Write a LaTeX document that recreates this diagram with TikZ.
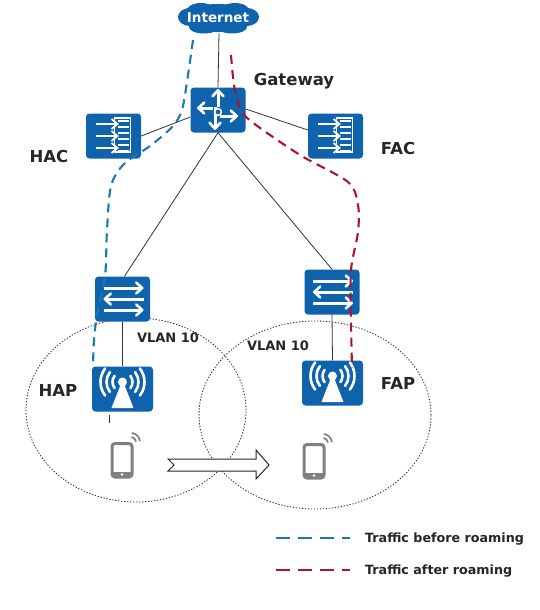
\documentclass[tikz,border=0pt]{standalone}
\usepackage{fontspec}
\setmainfont{DejaVu Sans}
\usetikzlibrary{arrows.meta,calc}
\definecolor{hw}{HTML}{0F62AC}
\definecolor{bluet}{HTML}{1B78B4}
\definecolor{redt}{HTML}{B0122E}
\definecolor{ph}{HTML}{808080}
\tikzset{
  iconbox/.style={fill=hw,rounded corners=3.5pt,minimum width=#1,minimum height=45pt,inner sep=0pt,draw=none},
  iconbox/.default=55pt,
  lab/.style={font=\fontsize{16.5}{17}\selectfont\bfseries,text=black!85,inner sep=0pt},
  vlan/.style={font=\fontsize{13}{14}\selectfont\bfseries,text=black!85,inner sep=0pt},
  leg/.style={font=\fontsize{12.7}{14}\selectfont\bfseries,text=black!85,inner sep=0pt,anchor=west},
  link/.style={draw=black!80,line width=0.8pt},
  zone/.style={draw=black!85,line width=0.8pt,dash pattern=on 1.3pt off 1.7pt},
  trafb/.style={draw=bluet,line width=2.1pt,dash pattern=on 9pt off 6pt},
  trafr/.style={draw=redt,line width=2.1pt,dash pattern=on 9pt off 6pt},
  wa/.style={draw=white,line width=3pt,-{Straight Barb[length=6pt,width=11pt,round,line width=2.6pt]}},
  routerglyph/.pic={
    \draw[wa] (0,-3)--(0,-21);
    \draw[wa] (-3,-3)--(-3,20);
    \draw[wa] (-5,-2)--(-21,-2);
    \draw[wa] (2,6)--(20,6);
    \draw[white,line width=1.5pt,fill=hw] (0,2) circle[radius=3.4pt];
  },
  acglyph/.pic={
    \draw[white,line width=1.6pt] (1,-18) rectangle (17,16);
    \foreach \yy in {-12,0,12}{
      \draw[white,line width=2pt] (-18,\yy)--(3,\yy);
      \draw[white,line width=1.8pt] (-2,\yy-5)--(4,\yy)--(-2,\yy+5);
      \draw[white,line width=1.2pt] (4,\yy-3)--(15,\yy-3) (4,\yy+3)--(15,\yy+3);
    }
  },
  switchglyph/.pic={
    \draw[wa] (-19,-11)--(21,-11);
    \draw[wa] (21,0)--(-19,0);
    \draw[wa] (-19,11)--(21,11);
  },
  apglyph/.pic={
    \fill[white] (0,-9) -- (-11,19) -- (11,19) -- cycle;
    \fill[white] (0,-7) circle[radius=4.5pt];
    \foreach \rr in {10,16,22}{
      \draw[white,line width=2.6pt,line cap=round] (0,-7) ++(-38:\rr pt) arc[start angle=-38,end angle=38,radius=\rr pt];
      \draw[white,line width=2.6pt,line cap=round] (0,-7) ++(142:\rr pt) arc[start angle=142,end angle=218,radius=\rr pt];
    }
  },
  phoneglyph/.pic={
    \draw[ph,line width=3pt,rounded corners=3pt,fill=white] (-10,-16.5) rectangle (10,17);
    \fill[ph] (-10,12) rectangle (10,17);
    \fill[white] (0,14.5) circle[radius=1.4pt];
    \foreach \rr in {5,9}{
      \draw[ph,line width=1.7pt] (9,-18) ++(5:\rr pt) arc[start angle=5,end angle=85,radius=\rr pt];
    }
  },
}
\begin{document}
\begin{tikzpicture}[x=1pt,y=-1pt]
\useasboundingbox (0,0) rectangle (540,610);
\fill[white] (0,0) rectangle (540,610);

% coverage ellipses
\draw[zone] (136,410) ellipse[x radius=110pt,y radius=92pt];
\draw[zone] (315,415) ellipse[x radius=116pt,y radius=94pt];

% nodes
\fill[hw] (190,17) ellipse[x radius=12pt,y radius=9pt];
\fill[hw] (247,17) ellipse[x radius=12pt,y radius=9pt];
\fill[hw] (218,18) ellipse[x radius=34pt,y radius=14pt];
\fill[hw] (201,12) ellipse[x radius=15pt,y radius=9pt];
\fill[hw] (235,12) ellipse[x radius=15pt,y radius=9pt];
\fill[hw] (204,27) ellipse[x radius=15pt,y radius=6.5pt];
\fill[hw] (232,27) ellipse[x radius=15pt,y radius=6.5pt];
\node[inner sep=0pt,text=white,font=\fontsize{13.5}{14}\selectfont\bfseries] (inet) at (218,18) {Internet};
\coordinate (inetb) at (219,33);

\node[iconbox] (gw) at (218,110) {};
\node[iconbox] (hac) at (113.5,136) {};
\node[iconbox] (fac) at (335.5,136) {};
\node[iconbox] (swl) at (122.5,299) {};
\node[iconbox] (swr) at (332,292) {};
\node[iconbox=61pt] (hap) at (122.5,389) {};
\node[iconbox=61pt] (fap) at (332.5,383) {};

\pic at (gw) {routerglyph};
\pic at (hac) {acglyph};
\pic at (fac) {acglyph};
\pic at (swl) {switchglyph};
\pic at (swr) {switchglyph};
\pic at (hap) {apglyph};
\pic at (fap) {apglyph};
\pic at (122,460) {phoneglyph};
\pic at (314,461) {phoneglyph};

% links
\draw[link] (inetb) -- (gw.north);
\draw[link] (gw.west |- 0,117) -- (hac.east |- 0,136);
\draw[link] (gw.east |- 0,109) -- (fac.west |- 0,130);
\draw[link] (gw.south) -- ($(swl.north)+(2,0)$);
\draw[link] (gw.south) -- (swr.north);
\draw[link] (swl.south) -- (hap.north);
\draw[link] (swr.south) -- (fap.north);
\coordinate (stubt) at (109,415);
\coordinate (stube) at (109,423);
\draw[link,line width=0.9pt] (stubt) -- (stube);

% traffic
\draw[trafb,smooth] plot coordinates {(193,40) (188,75) (182,110) (172,127) (150,146) (124,164) (111,186) (107,230) (105,277) (97,315) (94,340) (93,366)};
\draw[trafr,smooth] plot coordinates {(231,55) (234,85) (240,108) (252,122) (300,155) (348,182) (358,205) (358,232) (351,270) (351,320) (352,368)};

% roaming arrow
\draw[black!85,line width=1pt,fill=white] (168,459) -- (256,459) -- (256,450) -- (269,465) -- (256,479) -- (256,471) -- (168,471) -- (174,465) -- cycle;

% labels
\node[lab] (lgw) at (294,81) {Gateway};
\node[lab] (lhac) at (49,156) {HAC};
\node[lab] (lfac) at (398,148) {FAC};
\node[lab] (lhap) at (58,390) {HAP};
\node[lab] (lfap) at (398,383) {FAP};
\node[vlan] (v1) at (168,338) {VLAN 10};
\node[vlan] (v2) at (278,346) {VLAN 10};

% legend
\coordinate (l1a) at (276,538);
\coordinate (l1b) at (350,538);
\coordinate (l2a) at (276,570);
\coordinate (l2b) at (350,570);
\draw[trafb,line width=1.8pt,dash pattern=on 14pt off 8pt] (l1a) -- (l1b);
\draw[trafr,line width=1.8pt,dash pattern=on 14pt off 8pt] (l2a) -- (l2b);
\node[leg] (t1) at (365,539) {Traffic before roaming};
\node[leg] (t2) at (365,571) {Traffic after roaming};
\end{tikzpicture}
\end{document}
